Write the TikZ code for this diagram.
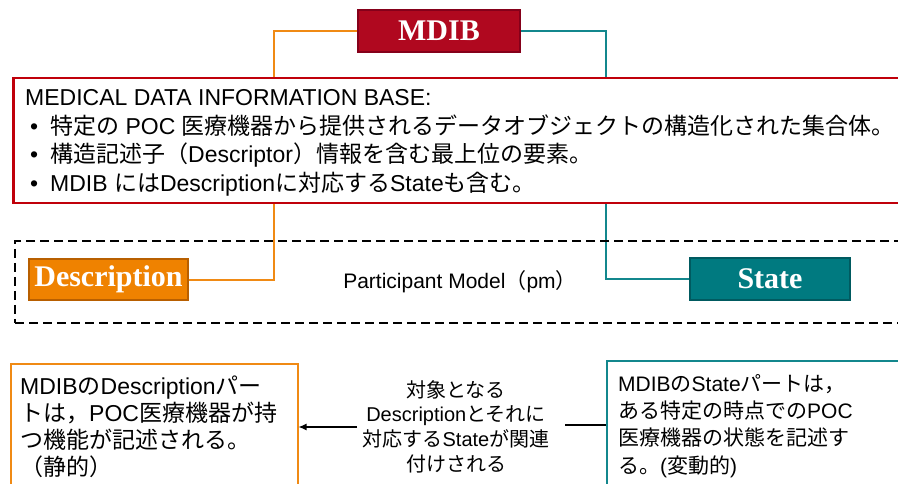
\documentclass[tikz,border=0pt]{standalone}
\usepackage{fontspec}
\setmainfont{Liberation Sans}
\newfontfamily\jpfont{Noto Sans CJK JP}
\newfontfamily\titlefont{Liberation Serif}
\newcommand\J[1]{{\jpfont #1}}
\usetikzlibrary{arrows.meta}
\definecolor{mdibred}{HTML}{B0081F}
\definecolor{mdibedge}{HTML}{85001A}
\definecolor{descor}{HTML}{EF8200}
\definecolor{descedge}{HTML}{B85F00}
\definecolor{orline}{HTML}{F08A14}
\definecolor{stateteal}{HTML}{007A80}
\definecolor{stateedge}{HTML}{005A60}
\definecolor{tealline}{HTML}{13878D}
\definecolor{infored}{HTML}{C0000A}
\begin{document}
\begin{tikzpicture}[x=1pt,y=-1pt,
  conn/.style={line width=2pt},
  titlebox/.style={draw, line width=2pt, text=white, inner sep=0pt,
    font=\titlefont\bfseries\fontsize{30}{30}\selectfont},
  txtline/.style={anchor=base west, inner sep=0pt},
  redtxt/.style={txtline, font=\fontsize{23}{27}\selectfont},
  lefttxt/.style={txtline, font=\fontsize{23}{27}\selectfont},
  righttxt/.style={txtline, font=\fontsize{21}{25}\selectfont},
  midtxt/.style={anchor=base, inner sep=0pt, font=\fontsize{20}{24}\selectfont},
  bigbox/.style={rectangle, anchor=north west, inner sep=0pt}
]
\useasboundingbox (0,0) rectangle (898,484);
\clip (0,0) rectangle (898,484);

% coordinates for connector bends
\coordinate (obend) at (274,150);
\coordinate (tbend) at (606,150);

% title boxes
\node[titlebox, fill=mdibred, draw=mdibedge, minimum width=162pt, minimum height=42pt] (mdib) at (439,31) {MDIB};
\node[titlebox, fill=descor, draw=descedge, minimum width=159pt, minimum height=41pt] (desc) at (108.5,279.5) {Description};
\node[titlebox, fill=stateteal, draw=stateedge, minimum width=160pt, minimum height=42pt] (state) at (770,279) {State};

% connectors
\draw[conn, orline] (mdib.west) -| (obend) |- (desc.east);
\draw[conn, tealline] (mdib.east) -| (tbend) |- (state.west);

% information box
\node[bigbox, draw=infored, line width=2.5pt, fill=white, minimum width=900pt, minimum height=125pt] (info) at (12,77) {};
\node[redtxt] (r1) at (25,106) {MEDICAL DATA INFORMATION BASE:};
\node[redtxt] (r2) at (30,135) {\makebox[20pt][l]{•}\J{特定の} POC \J{医療機器から提供されるデータオブジェクトの構造化された集合体。}};
\node[redtxt] (r3) at (30,163) {\makebox[20pt][l]{•}\J{構造記述子（}Descriptor\J{）情報を含む最上位の要素。}};
\node[redtxt] (r4) at (30,192) {\makebox[20pt][l]{•}MDIB \J{には}Description\J{に対応する}State\J{も含む。}};

% participant model dashed box
\node[bigbox, draw=black, line width=2pt, dash pattern=on 9pt off 5pt, minimum width=900pt, minimum height=82pt] (pm) at (14,240) {};
\node[anchor=base, inner sep=0pt, font=\fontsize{21}{25}\selectfont] (pmlabel) at (460,288) {Participant Model\J{（}pm\J{）}};

% bottom boxes
\node[bigbox, draw=orline, line width=1.5pt, minimum width=287pt, minimum height=140pt] (lbox) at (10,363) {};
\node[bigbox, draw=tealline, line width=1.5pt, minimum width=300pt, minimum height=140pt] (rbox) at (606,360) {};

\node[lefttxt] (l1) at (20,394) {MDIB\J{の}Description\J{パー}};
\node[lefttxt] (l2) at (20,421) {\J{トは，}POC\J{医療機器が持}};
\node[lefttxt] (l3) at (20,448) {\J{つ機能が記述される。}};
\node[lefttxt] (l4) at (20,475) {\J{（静的）}};

\node[righttxt] (q1) at (618,391) {MDIB\J{の}State\J{パートは，}};
\node[righttxt] (q2) at (618,418) {\J{ある特定の時点での}POC};
\node[righttxt] (q3) at (618,445) {\J{医療機器の状態を記述す}};
\node[righttxt] (q4) at (618,473) {\J{る。}(\J{変動的})};

\node[midtxt] (m1) at (456,397) {\J{対象となる}};
\node[midtxt] (m2) at (456,421) {Description\J{とそれに}};
\node[midtxt] (m3) at (456,446) {\J{対応する}State\J{が関連}};
\node[midtxt] (m4) at (456,471) {\J{付けされる}};

% relation connector
\coordinate (aL) at (357,427);
\coordinate (aR) at (565,425);
\draw[line width=1.3pt, -{Latex[length=8pt,width=7pt]}] (aL) -- (aL -| lbox.east);
\draw[line width=1.3pt] (aR) -- (aR -| rbox.west);
\end{tikzpicture}
\end{document}
